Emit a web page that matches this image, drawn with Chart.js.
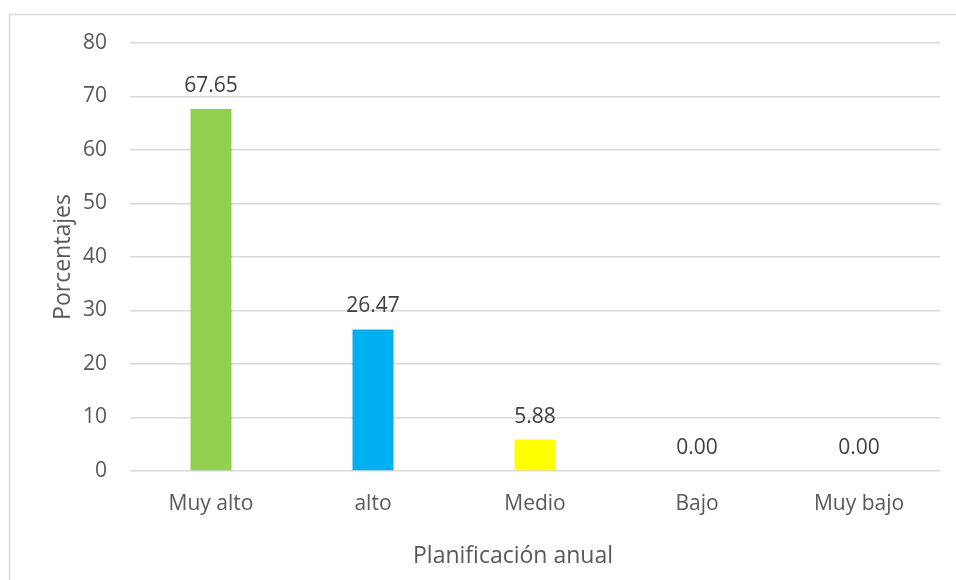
<!DOCTYPE html>
<html>
<head>
<meta charset="utf-8">
<script src="https://cdn.jsdelivr.net/npm/chart.js@4.4.1/dist/chart.umd.min.js"></script>
<style>
  html, body { margin: 0; padding: 0; background: #ffffff; }
  canvas { display: block; }
</style>
</head>
<body>
<canvas id="chart" width="956" height="580"></canvas>
<script>
// Niveles de planificación anual (porcentajes)
const categories = ['Muy alto', 'alto', 'Medio', 'Bajo', 'Muy bajo'];
const percentages = [67.65, 26.47, 5.88, 0.00, 0.00];
const barColors = ['#92D050', '#00B0F0', '#FFFF00', '#A5A5A5', '#4472C4'];
const yTicks = [0, 10, 20, 30, 40, 50, 60, 70, 80];
const xAxisTitle = 'Planificación anual';
const yAxisTitle = 'Porcentajes';

const FONT = '"Open Sans", "DejaVu Sans", sans-serif';

// Fondo blanco y marco gris alrededor del gráfico
const framePlugin = {
  id: 'frame',
  beforeDraw(chart) {
    const ctx = chart.ctx;
    ctx.save();
    ctx.fillStyle = '#ffffff';
    ctx.fillRect(0, 0, chart.width, chart.height);
    ctx.strokeStyle = '#D9D9D9';
    ctx.lineWidth = 1.5;
    ctx.strokeRect(9.5, 14.5, chart.width + 20, chart.height + 20);
    ctx.restore();
  }
};

// Etiquetas de valor encima de cada barra y título del eje horizontal
const valueLabels = {
  id: 'valueLabels',
  afterDatasetsDraw(chart) {
    const ctx = chart.ctx;
    const meta = chart.getDatasetMeta(0);
    ctx.save();
    ctx.font = '21px ' + FONT;
    ctx.fillStyle = '#404040';
    ctx.textAlign = 'center';
    ctx.textBaseline = 'alphabetic';
    meta.data.forEach((bar, i) => {
      const v = chart.data.datasets[0].data[i];
      ctx.fillText(v.toFixed(2), bar.x, bar.y - 17);
    });

    // título del eje X, centrado respecto al marco completo
    const area = chart.chartArea;
    ctx.font = '23px ' + FONT;
    ctx.fillStyle = '#595959';
    ctx.textBaseline = 'middle';
    ctx.fillText(xAxisTitle, (area.left + area.right) / 2 - 22, chart.height - 24);
    ctx.restore();
  }
};

new Chart(document.getElementById('chart'), {
  type: 'bar',
  data: {
    labels: categories,
    datasets: [{
      data: percentages,
      backgroundColor: barColors,
      borderWidth: 0,
      categoryPercentage: 1,
      barPercentage: 0.253
    }]
  },
  options: {
    responsive: false,
    animation: false,
    events: [],
    layout: { padding: { left: 50, right: 16, top: 43, bottom: 0 } },
    plugins: {
      legend: { display: false },
      tooltip: { enabled: false }
    },
    scales: {
      x: {
        grid: { display: false, drawTicks: false },
        border: { display: false },
        ticks: {
          color: '#595959',
          font: { family: FONT, size: 21 },
          padding: 20,
          maxRotation: 0
        },
        afterFit(scale) { scale.height = 109; }
      },
      y: {
        min: 0,
        max: 80,
        afterBuildTicks(scale) { scale.ticks = yTicks.map(v => ({ value: v })); },
        grid: { color: '#D9D9D9', lineWidth: 1.5, drawTicks: false },
        border: { display: false },
        ticks: {
          color: '#595959',
          font: { family: FONT, size: 21 },
          padding: 23
        },
        title: {
          display: true,
          text: yAxisTitle,
          color: '#595959',
          font: { family: FONT, size: 23 },
          padding: 0
        },
        afterFit(scale) { scale.width = 80; }
      }
    }
  },
  plugins: [framePlugin, valueLabels]
});
</script>
</body>
</html>
